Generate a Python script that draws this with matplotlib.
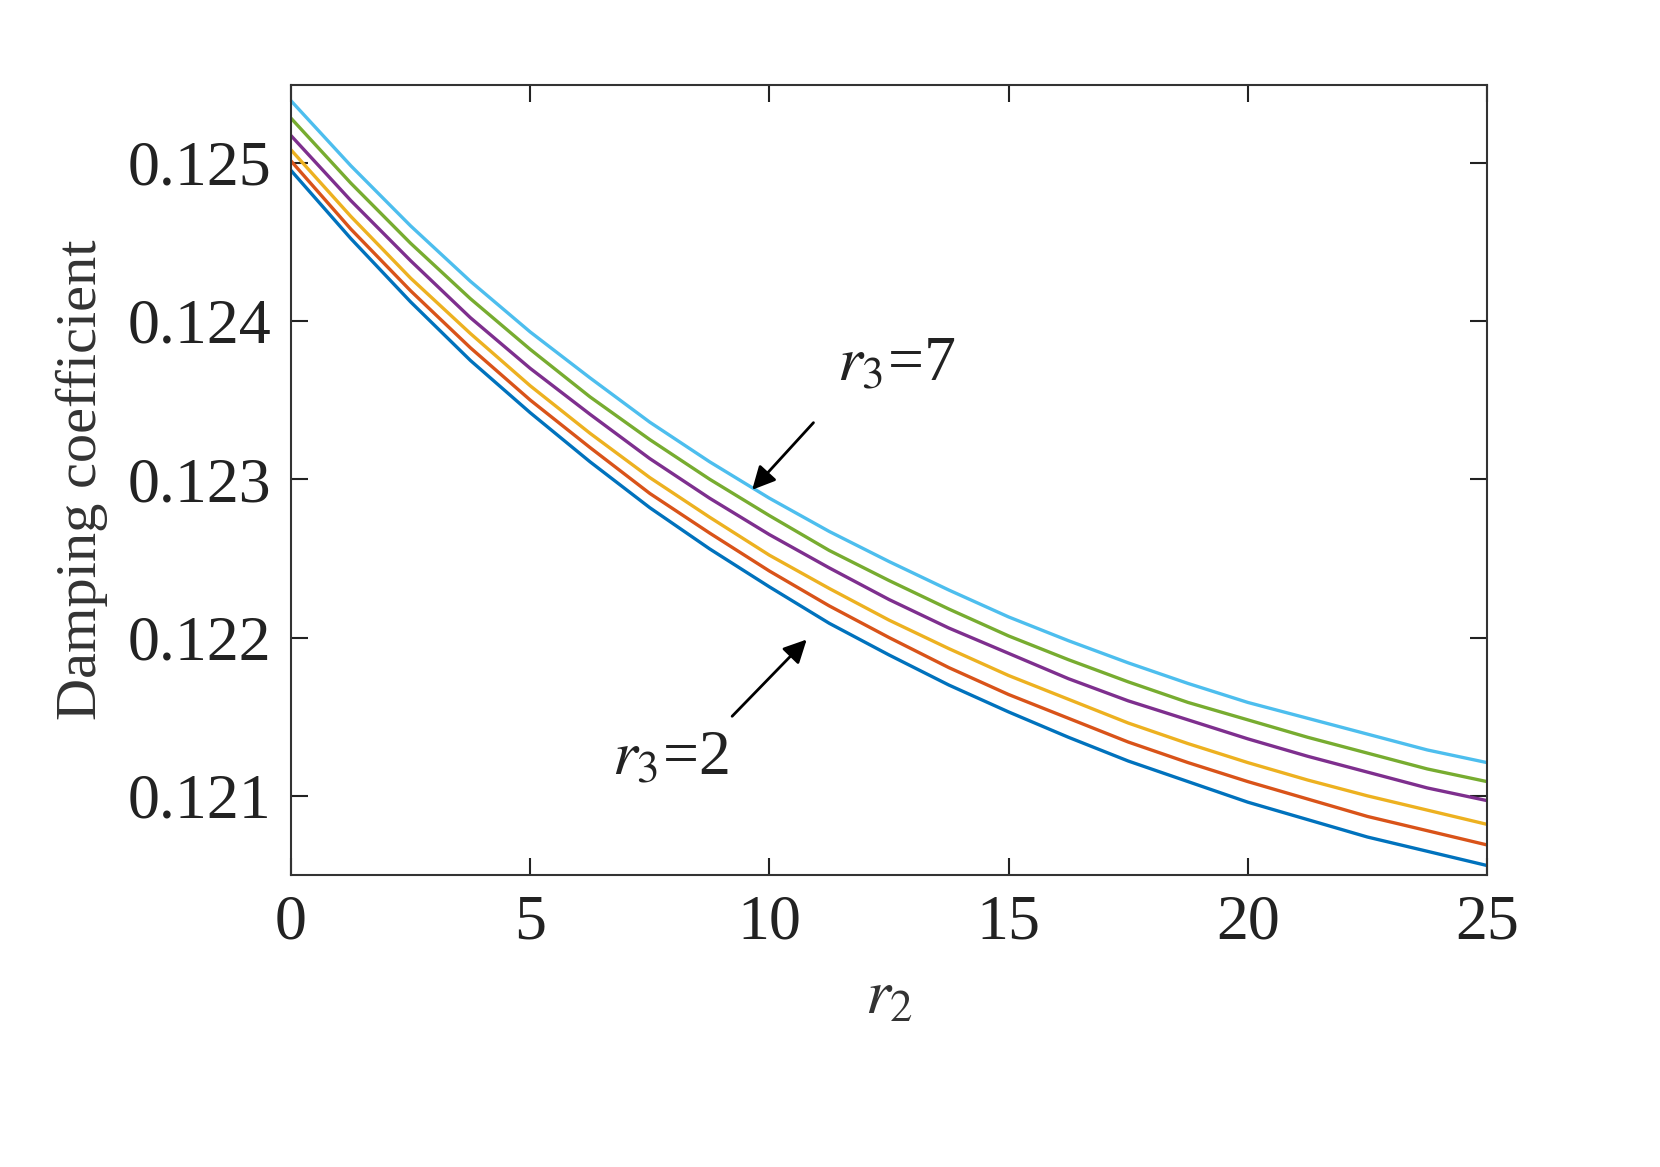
import matplotlib
matplotlib.use("Agg")
import matplotlib.pyplot as plt

r2 = [0, 1.25, 2.5, 3.75, 5, 6.25, 7.5, 8.75, 10, 11.25, 12.5, 13.75, 15,
      16.25, 17.5, 18.75, 20, 21.25, 22.5, 23.75, 25]
s2 = [12495,12452,12412,12375,12342,12311,12282,12256,12232,12209,12189,12170,12153,12137,12122,12109,12096,12085,12074,12065,12056]
s3 = [12501,12458,12419,12383,12350,12320,12291,12266,12242,12220,12200,12181,12164,12149,12134,12121,12109,12098,12087,12078,12069]
s4 = [12508,12466,12427,12392,12359,12329,12301,12276,12252,12231,12211,12193,12176,12161,12146,12133,12121,12110,12100,12091,12082]
s5 = [12517,12476,12438,12402,12370,12341,12313,12288,12265,12244,12224,12206,12190,12174,12160,12148,12136,12125,12115,12105,12097]
s6 = [12528,12487,12449,12414,12382,12352,12325,12300,12277,12255,12236,12218,12201,12186,12172,12159,12148,12137,12127,12117,12109]
s7 = [12539,12498,12460,12425,12393,12364,12336,12311,12288,12267,12248,12230,12213,12198,12184,12171,12159,12149,12139,12129,12121]
series = [s2, s3, s4, s5, s6, s7]
colors = ["#0072BD", "#D95319", "#EDB120", "#7E2F8E", "#77AC30", "#4DBEEE"]

plt.rcParams['font.family'] = ['Liberation Serif', 'DejaVu Serif']
plt.rcParams['mathtext.fontset'] = 'stix'

fig = plt.figure(figsize=(16.6, 11.67), dpi=100)
ax = fig.add_axes([0.1753, 0.2502, 0.7205, 0.677])
for s, c in zip(series, colors):
    ax.plot(r2, [v * 1e-5 for v in s], color=c, lw=2.4)

ax.set_xlim(0, 25)
ax.set_ylim(0.1205, 0.12549)
ax.set_xticks([0, 5, 10, 15, 20, 25])
ax.set_yticks([0.121, 0.122, 0.123, 0.124, 0.125])
ax.set_yticklabels(["0.121", "0.122", "0.123", "0.124", "0.125"])
ax.tick_params(direction='in', top=True, right=True, length=12, width=1.5,
               labelsize=46, colors='#222222', pad=14)
for sp in ax.spines.values():
    sp.set_linewidth(1.5)
    sp.set_color('#333333')
ax.set_xlabel('$r_2$', fontsize=46, color='#333333', labelpad=12)
ax.set_ylabel('Damping coefficient', fontsize=42, color='#333333', labelpad=14)

ax.annotate('', xy=(9.60, 0.12292), xytext=(10.96, 0.12337),
            arrowprops=dict(arrowstyle='-|>', color='black', lw=2, mutation_scale=35))
ax.text(12.64, 0.12372, '$r_3$=7', fontsize=46, ha='center', va='center', color='#222222')
ax.annotate('', xy=(10.82, 0.12200), xytext=(9.18, 0.12149),
            arrowprops=dict(arrowstyle='-|>', color='black', lw=2, mutation_scale=35))
ax.text(7.93, 0.12123, '$r_3$=2', fontsize=46, ha='center', va='center', color='#222222')

fig.savefig('out.png', dpi=100, facecolor='white')
